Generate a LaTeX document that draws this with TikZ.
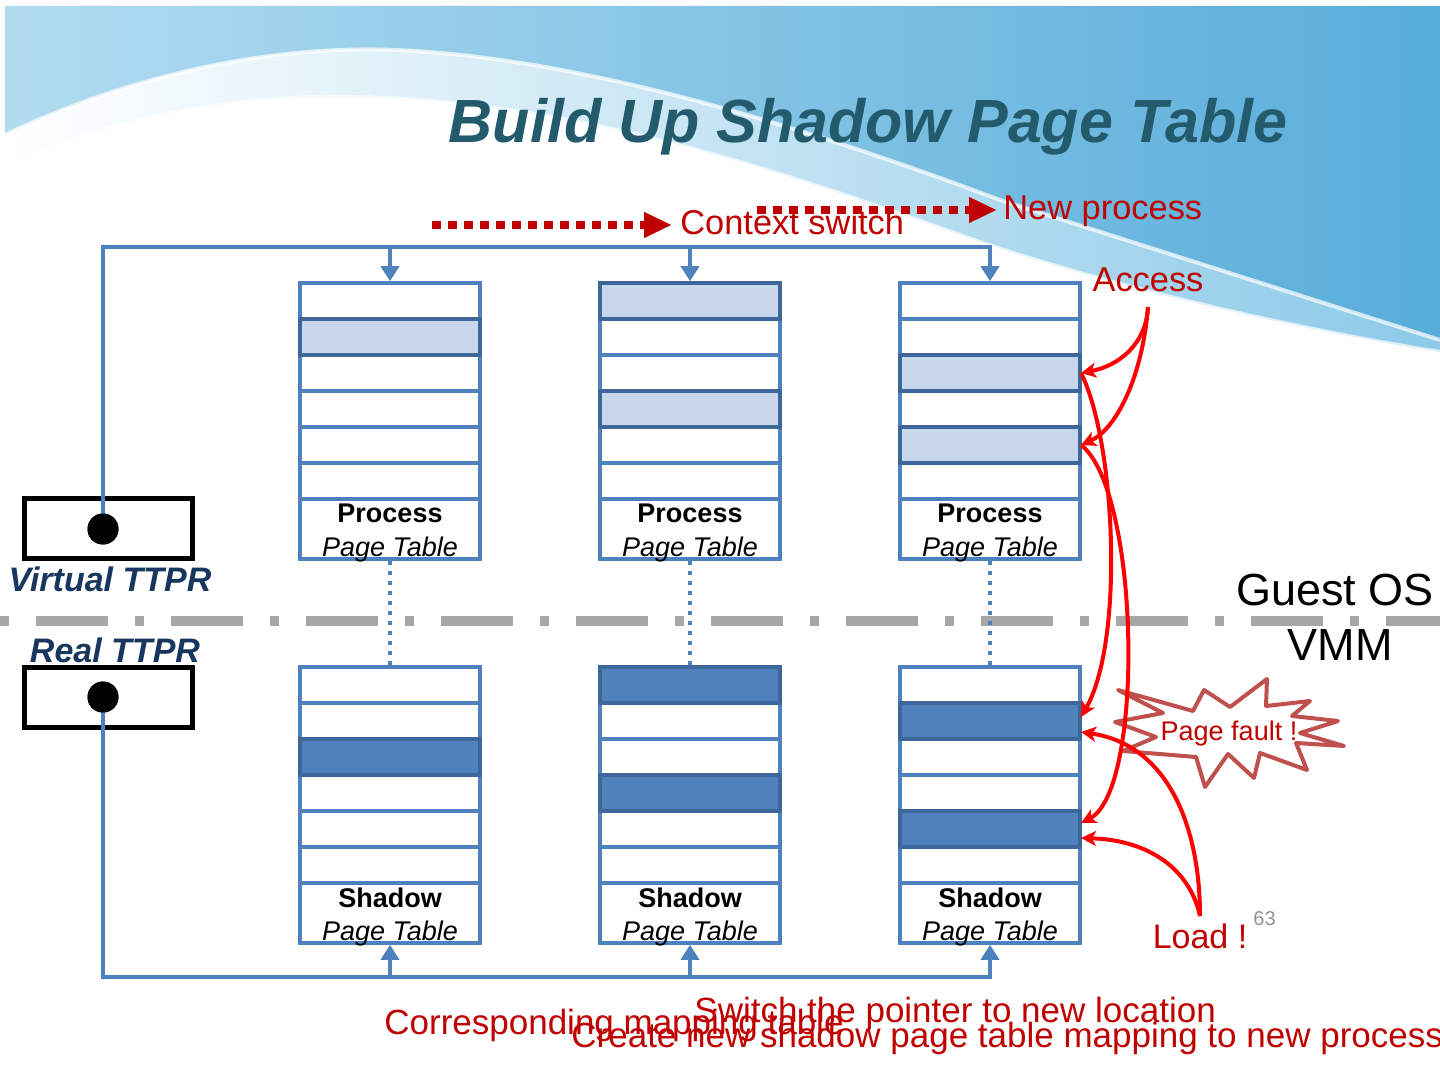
\documentclass[tikz,border=0pt]{standalone}
\usepackage{fontspec}
\setmainfont{Liberation Sans}
\usetikzlibrary{arrows.meta}
\definecolor{tblue}{HTML}{4F81BD}
\definecolor{rowedge}{HTML}{3D679A}
\definecolor{rowlight}{HTML}{C8D7EB}
\definecolor{redtxt}{HTML}{C00000}
\definecolor{starc}{HTML}{C0504D}
\definecolor{navy}{HTML}{17375E}
\definecolor{titlec}{HTML}{235A6C}
\definecolor{bgL}{HTML}{B2DCF0}
\definecolor{bgR}{HTML}{58ADDA}
\definecolor{bandR}{HTML}{8CCAE8}
\definecolor{sepgray}{HTML}{A6A6A6}
\tikzset{
  tabbox/.style={draw=tblue, line width=1.8pt, fill=white, minimum width=90pt, minimum height=138pt, inner sep=0pt},
  rowline/.style={draw=tblue, line width=1.8pt},
  lightrow/.style={fill=rowlight, draw=rowedge, line width=1.8pt},
  darkrow/.style={fill=tblue, draw=rowedge, line width=1.8pt},
  tablbl/.style={inner sep=0pt, anchor=base, text=black},
  bus/.style={draw=tblue, line width=2pt},
  busarrow/.style={bus, -{Triangle[length=7.5pt,width=9pt]}},
  vdots/.style={draw=tblue, line width=2pt, dash pattern=on 2pt off 3pt},
  ttprbox/.style={draw=black, line width=2.5pt, fill=white, minimum width=84pt, minimum height=30pt, inner sep=0pt},
  ttprdot/.style={circle, fill=black, minimum size=15.5pt, inner sep=0pt},
  ttprlbl/.style={inner sep=0pt, anchor=base, text=navy, font=\fontsize{17}{20}\selectfont\bfseries\itshape},
  redlbl/.style={inner sep=0pt, text=redtxt, font=\fontsize{17.2}{20}\selectfont},
  botlbl/.style={inner sep=0pt, anchor=base west, text=redtxt, font=\fontsize{17.5}{20}\selectfont},
  reddots/.style={draw=redtxt, line width=4pt, dash pattern=on 4.5pt off 3.5pt, -{Triangle[length=14pt,width=12pt]}},
  redcurve/.style={draw=red, line width=2pt, -{Stealth[length=7.5pt,width=7.5pt,inset=2pt]}},
}
\newcommand\pgtable[6]{%
  \node[tabbox] (#1) at (#2,#3+138) {};
  \foreach \r in {1,...,5} \draw[rowline] (#2-90,#3+36*\r) -- (#2+90,#3+36*\r);
  \draw[rowline] (#2-90,#3+216) -- (#2+90,#3+216);
  \foreach \k in {#6} \draw[#5] ({#2-90},{#3+36*(\k-1)}) rectangle ({#2+90},{#3+36*\k});
  \node[tablbl, font=\fontsize{13.5}{16}\selectfont\bfseries] (#1t) at (#2,#3+240) {#4};
  \node[tablbl, font=\fontsize{13.5}{16}\selectfont\itshape] (#1s) at (#2,#3+273) {Page Table};
}
\begin{document}
\begin{tikzpicture}[x=0.5pt,y=-0.5pt]
\useasboundingbox (0,0) rectangle (1440,1080);
\clip (0,0) rectangle (1440,1080);
% ---------- background ----------
\fill[white] (0,0) rectangle (1440,1080);
\shade[left color=bgL, right color=bgR]
  (5,6) -- (1440,6) -- (1440,340) -- (1000,200)
  .. controls (760,110) and (560,57) .. (395,50)
  .. controls (270,45) and (130,75) .. (5,135) -- cycle;
\shade[left color=white, right color=bandR]
  (5,135) .. controls (130,75) and (270,45) .. (395,50)
  .. controls (560,57) and (760,110) .. (1000,200) -- (1440,340) -- (1440,352)
  .. controls (1300,330) and (1100,285) .. (960,235)
  .. controls (750,160) and (560,100) .. (350,97)
  .. controls (240,95) and (120,115) .. (5,165) -- cycle;
\draw[white, line width=2pt, opacity=.7]
  (5,135) .. controls (130,75) and (270,45) .. (395,50)
  .. controls (560,57) and (760,110) .. (1000,200) -- (1440,340);
\draw[white, line width=2pt, opacity=.7]
  (5,165) .. controls (120,115) and (240,95) .. (350,97)
  .. controls (560,100) and (750,160) .. (960,235)
  .. controls (1100,285) and (1300,330) .. (1440,352);
% ---------- title ----------
\node[inner sep=0pt, anchor=base, text=titlec, font=\fontsize{30.5}{36}\selectfont\bfseries\itshape] (title) at (868,143) {Build Up Shadow Page Table};
% ---------- separator ----------
\coordinate (sepL) at (-99,621);
\coordinate (sepR) at (1500,621);
\draw[sepgray, line width=5pt, dash pattern=on 36pt off 13.5pt on 4.5pt off 13.5pt] (sepL) -- (sepR);
\node[inner sep=0pt, anchor=base, font=\fontsize{22.5}{26}\selectfont] (guest) at (1335,605) {Guest OS};
\node[inner sep=0pt, anchor=base, font=\fontsize{22.5}{26}\selectfont] (vmm) at (1340,660) {VMM};
% ---------- tables ----------
\pgtable{p1}{390}{283}{Process}{lightrow}{2}
\pgtable{p2}{690}{283}{Process}{lightrow}{1,4}
\pgtable{p3}{990}{283}{Process}{lightrow}{3,5}
\pgtable{s1}{390}{667}{Shadow}{darkrow}{3}
\pgtable{s2}{690}{667}{Shadow}{darkrow}{1,4}
\pgtable{s3}{990}{667}{Shadow}{darkrow}{2,5}
\draw[vdots] (p1.south) -- (s1.north);
\draw[vdots] (p2.south) -- (s2.north);
\draw[vdots] (p3.south) -- (s3.north);
% ---------- TTPR ----------
\node[ttprbox] (vbox) at (108,528) {};
\node[ttprbox] (rbox) at (108,697) {};
\coordinate (topbus) at (0,247);
\coordinate (botbus) at (0,977);
\node[ttprdot] (vdot) at (103,529) {};
\node[ttprdot] (rdot) at (103,697) {};
\draw[busarrow] (vdot.center) |- (topbus -| p3.north) -- (p3.north);
\draw[busarrow] (topbus -| p1.north) -- (p1.north);
\draw[busarrow] (topbus -| p2.north) -- (p2.north);
\draw[busarrow] (rdot.center) |- (botbus -| s3.south) -- (s3.south);
\draw[busarrow] (botbus -| s1.south) -- (s1.south);
\draw[busarrow] (botbus -| s2.south) -- (s2.south);
\node[ttprdot] (vdot2) at (103,529) {};
\node[ttprdot] (rdot2) at (103,697) {};
\node[ttprlbl] (vlbl) at (110,591) {Virtual TTPR};
\node[ttprlbl] (rlbl) at (115,662) {Real TTPR};
% ---------- red labels and dotted arrows ----------
\node[redlbl, anchor=base west] (cs) at (680,235) {Context switch};
\node[redlbl, anchor=base west] (np) at (1003,220) {New process};
\coordinate (csstart) at (432,225);
\coordinate (npstart) at (757,210);
\draw[reddots] (csstart) -- ([xshift=-4pt]cs.west |- csstart);
\draw[reddots] (npstart) -- ([xshift=-3pt]np.west |- npstart);
\node[redlbl, anchor=base] (acc) at (1148,292) {Access};
\coordinate (accp) at (1148,307);
% ---------- page fault star ----------
\draw[starc, line width=2pt, line join=round]
  (1118,690) -- (1193,711) -- (1204,690) -- (1230,707) -- (1267,679) -- (1266,706)
  -- (1310,701) -- (1292,716) -- (1338,721) -- (1300,733) -- (1344,746) -- (1296,743)
  -- (1307,770) -- (1260,753) -- (1254,778) -- (1228,754) -- (1205,787) -- (1196,757)
  -- (1123,751) -- (1156,737) -- (1115,722) -- (1163,713) -- cycle;
\node[inner sep=0pt, anchor=base, text=redtxt, font=\fontsize{13.5}{16}\selectfont] (pf) at (1229,740) {Page fault !};
% ---------- row anchor points ----------
\coordinate (p3r3) at (1081,373);
\coordinate (p3r5) at (1081,445);
\coordinate (s3r2a) at (1081,717);
\coordinate (s3r2b) at (1081,732);
\coordinate (s3r5a) at (1081,823);
\coordinate (s3r5b) at (1081,838);
\node[redlbl, anchor=base, font=\fontsize{17}{20}\selectfont] (load) at (1200,948) {Load !};
\coordinate (ldp) at (1200,916);
\node[inner sep=0pt, anchor=base west, text=gray!85, font=\fontsize{10}{12}\selectfont] (pnum) at (1253,925) {63};
% ---------- red curves ----------
\draw[redcurve] (accp) .. controls (1146,345) and (1118,366) .. (p3r3);
\draw[redcurve] (accp) .. controls (1142,380) and (1115,430) .. (p3r5);
\draw[redcurve] (p3r3) .. controls (1115,440) and (1125,640) .. (s3r2a);
\draw[redcurve] (p3r5) .. controls (1140,490) and (1145,790) .. (s3r5a);
\draw[redcurve] (ldp) .. controls (1200,830) and (1170,745) .. (s3r2b);
\draw[redcurve] (ldp) .. controls (1190,870) and (1150,840) .. (s3r5b);
% ---------- bottom texts ----------
\node[botlbl] (corr) at (384,1034) {Corresponding mapping table};
\node[botlbl] (sw) at (694,1022) {Switch the pointer to new location};
\node[botlbl] (cr) at (571,1047) {Create new shadow page table mapping to new process};
\end{tikzpicture}
\end{document}
